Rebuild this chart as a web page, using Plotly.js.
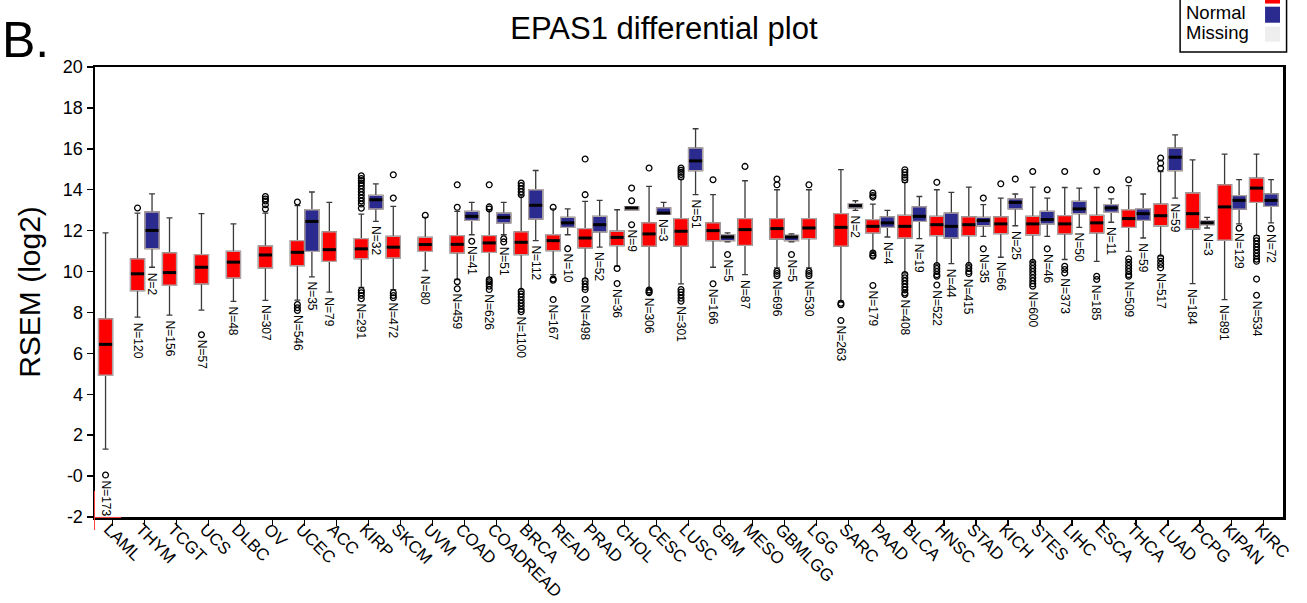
<!DOCTYPE html>
<html>
<head>
<meta charset="utf-8">
<script src="https://cdn.plot.ly/plotly-3.0.1.min.js"></script>
<style>
html,body{margin:0;padding:0;background:#ffffff;}
#chart{width:1307px;height:603px;}
</style>
</head>
<body>
<div id="chart"></div>
<script>
// ---------------- DATA ----------------
const categories = ["LAML","THYM","TCGT","UCS","DLBC","OV","UCEC","ACC","KIRP","SKCM","UVM","COAD","COADREAD","BRCA","READ","PRAD","CHOL","CESC","LUSC","GBM","MESO","GBMLGG","LGG","SARC","PAAD","BLCA","HNSC","STAD","KICH","STES","LIHC","ESCA","THCA","LUAD","PCPG","KIPAN","KIRC"];

// Tumor (red) box statistics
const tumorLow  = [1.32,7.77,7.87,8.11,8.54,8.59,8.60,8.99,9.23,9.12,10.05,9.61,9.69,9.12,9.85,9.64,10.26,9.15,9.40,10.21,9.85,10.18,10.18,8.55,10.99,9.93,10.34,10.34,10.70,10.50,10.59,10.50,10.99,10.75,9.41,8.63,11.76];
const tumorQ1   = [4.93,9.07,9.33,9.40,9.69,10.18,10.29,10.50,10.63,10.67,10.99,10.91,10.94,10.83,11.02,11.16,11.27,11.24,11.24,11.51,11.28,11.59,11.61,11.24,11.89,11.64,11.76,11.76,11.85,11.80,11.84,11.89,12.16,12.24,12.08,11.53,13.38];
const tumorMed  = [6.44,9.89,9.95,10.21,10.46,10.81,10.94,11.07,11.11,11.19,11.32,11.33,11.40,11.43,11.51,11.64,11.67,11.84,11.97,12.00,12.05,12.10,12.13,12.16,12.21,12.21,12.29,12.29,12.33,12.33,12.33,12.38,12.59,12.73,12.83,13.16,14.08];
const tumorQ3   = [7.69,10.62,10.91,10.83,10.99,11.24,11.51,11.94,11.61,11.72,11.67,11.76,11.76,11.94,11.80,12.10,11.97,12.38,12.59,12.38,12.59,12.59,12.59,12.83,12.54,12.75,12.70,12.67,12.67,12.70,12.73,12.75,13.02,13.30,13.84,14.24,14.57];
const tumorHigh = [11.89,12.86,12.62,12.83,12.33,12.86,13.22,13.38,12.81,13.19,12.65,12.94,13.02,13.71,13.06,13.43,13.02,14.16,14.52,13.76,14.44,14.00,14.00,14.98,13.30,14.36,14.00,14.13,13.59,14.13,14.11,14.11,14.20,14.89,15.46,15.74,15.74];
const tumorN    = [173,120,156,57,48,307,546,79,291,472,80,459,626,1100,167,498,36,306,301,166,87,696,530,263,179,408,522,415,66,600,373,185,509,517,184,891,534];
const tumorOutliers = [
  [0.05],
  [13.11],
  [],
  [6.91],
  [],
  [13.67,13.55,13.45,13.27,13.06],
  [13.40,8.39,8.23,8.10],
  [],
  [14.68,14.55,14.45,14.33,14.20,14.05,13.90,13.75,13.60,13.45,13.30,13.10,9.07,8.96,8.83,8.67],
  [14.73,13.59,8.96,8.83,8.72],
  [12.75],
  [14.24,13.14,9.50,9.16],
  [14.24,13.16,13.06,9.60,9.50,9.40,9.28,9.12],
  [14.33,14.20,14.05,13.90,13.76,9.04,8.90,8.75,8.60,8.45,8.30,8.15,8.04],
  [13.14,9.64,9.58,8.63],
  [15.50,13.76,9.55,9.40,9.25,9.12,8.63],
  [10.15,9.41],
  [15.06,9.10,9.02,8.96],
  [15.06,14.95,14.85,14.75,14.62,9.12,9.00,8.85,8.70,8.55],
  [14.49,9.40],
  [15.14],
  [14.52,14.24,10.01,9.90,9.80],
  [14.24,10.01,9.90,9.80],
  [8.45,8.38,7.61],
  [13.84,13.72,13.64,10.91,10.80,10.75,9.32],
  [14.98,14.85,14.72,14.60,14.48,9.85,9.70,9.55,9.40,9.25,9.10,8.95,8.88],
  [14.36,10.29,10.15,10.00,9.85,9.77,9.34],
  [10.30,10.15,10.00,9.90],
  [14.29],
  [14.89,10.45,10.30,10.15,10.00,9.85,9.70,9.55,9.40,9.28],
  [14.89,10.26,10.10,9.93],
  [14.89,9.77,9.61],
  [14.49,10.62,10.45,10.30,10.15,10.00,9.85,9.77],
  [15.55,15.30,15.05,10.67,10.50,10.35,10.18],
  [],
  [],
  [11.64,11.50,11.35,11.20,11.05,10.90,10.75,10.60,10.50,9.63,8.84]
];

// Normal (blue) box statistics
const normalCats = ["THYM","UCEC","KIRP","COAD","COADREAD","BRCA","READ","PRAD","CHOL","CESC","LUSC","GBM","GBMLGG","SARC","PAAD","BLCA","HNSC","STAD","KICH","STES","LIHC","ESCA","THCA","LUAD","PCPG","KIPAN","KIRC"];
const normalLow  = [10.21,9.74,12.45,11.80,11.80,11.51,11.80,11.19,13.02,12.81,13.76,11.45,11.45,12.99,11.69,11.61,10.39,11.72,12.24,11.72,12.16,12.41,11.64,13.59,12.13,12.33,12.38];
const normalQ1   = [11.12,10.99,13.06,12.50,12.38,12.57,12.16,11.94,13.02,12.81,14.93,11.51,11.51,13.11,12.16,12.45,11.64,12.24,13.06,12.33,12.83,12.90,12.50,14.93,12.29,13.05,13.19];
const normalMed  = [12.01,12.45,13.51,12.70,12.65,13.24,12.38,12.29,13.11,12.86,15.41,11.69,11.69,13.22,12.38,12.70,12.21,12.49,13.38,12.54,13.06,13.11,12.83,15.59,12.38,13.48,13.48];
const normalQ3   = [12.91,13.02,13.72,12.94,12.86,14.00,12.65,12.70,13.16,13.11,16.03,11.80,11.77,13.32,12.67,13.16,12.86,12.65,13.55,12.94,13.43,13.27,13.07,16.03,12.49,13.71,13.80];
const normalHigh = [13.80,13.89,14.29,13.38,13.38,14.94,13.06,13.48,13.16,13.38,16.98,11.89,11.84,13.46,12.99,13.67,13.87,13.27,13.79,13.59,14.08,13.55,13.79,16.68,12.65,14.49,14.49];
const normalN    = [2,35,32,41,51,112,10,52,9,3,51,5,5,2,4,19,44,35,25,46,50,11,59,59,3,129,72];
const normalOutliers = [
  [],[],[],[11.48],[11.60,11.45],[],[11.12],[],[14.08,13.46,12.29],[],[],[10.83],[10.83],[],[],[],[],
  [13.59,11.11],[14.52],[14.00,11.11],[],[14.00],[],[],[],[12.12],[12.10]
];

const yTickVals = [-2,0,2,4,6,8,10,12,14,16,18,20];
const yTickText = ["-2","-0","2","4","6","8","10","12","14","16","18","20"];

const legendItems = ["Normal", "Missing"];

// ---------------- STYLE ----------------
const FONT = "Liberation Sans, Arial, Helvetica, sans-serif";
const RED = "#ff0000", BLUE = "#2b2b8f", MISSING = "#eeeeee";
const OFF = 0.227;   // half-group offset (category units)
const BW = 0.438;    // box width (category units)

const catIndex = c => categories.indexOf(c);
const tX = categories.map((c, i) => i - OFF);
const nX = normalCats.map(c => catIndex(c) + OFF);

function boxPair(x, low, q1, med, q3, high, fill) {
  const common = {type: "box", x: x, q1: q1, median: med, q3: q3, width: BW,
    boxpoints: false, fillcolor: fill, hoverinfo: "skip", showlegend: false};
  const whisk = Object.assign({}, common, {lowerfence: low, upperfence: high,
    whiskerwidth: 0.42, line: {color: "#3a3a3a", width: 1.3}});
  const body = Object.assign({}, common, {lowerfence: q1, upperfence: q3,
    whiskerwidth: 0, line: {color: "#b0a4a4", width: 1.3}});
  return [whisk, body];
}

const traces = [];
traces.push(...boxPair(tX, tumorLow, tumorQ1, tumorMed, tumorQ3, tumorHigh, RED));
traces.push(...boxPair(nX, normalLow, normalQ1, normalMed, normalQ3, normalHigh, BLUE));

// median bars
traces.push({type: "scatter", mode: "markers", x: tX.concat(nX), y: tumorMed.concat(normalMed),
  marker: {symbol: "line-ew", size: 9.4, color: "#000", line: {color: "#000", width: 3}},
  hoverinfo: "skip", showlegend: false});

// outliers
const oX = [], oY = [];
tumorOutliers.forEach((arr, i) => arr.forEach(v => { oX.push(tX[i]); oY.push(v); }));
normalOutliers.forEach((arr, i) => arr.forEach(v => { oX.push(nX[i]); oY.push(v); }));
traces.push({type: "scatter", mode: "markers", x: oX, y: oY,
  marker: {symbol: "circle-open", size: 5.8, color: "#000", line: {color: "#000", width: 1.3}},
  hoverinfo: "skip", showlegend: false});

// N= labels below the lowest point of each box
const annotations = [];
function addLabels(xs, lows, meds, outs, ns) {
  xs.forEach((x, i) => {
    const below = outs[i].filter(v => v < meds[i]);
    const lowest = Math.min(lows[i], ...below);
    annotations.push({x: x, y: lowest, xref: "x", yref: "y", text: "N=" + ns[i],
      showarrow: false, textangle: 90, xanchor: "center", yanchor: "top", yshift: -3,
      font: {family: FONT, size: 12, color: "#000"}});
  });
}
addLabels(tX, tumorLow, tumorMed, tumorOutliers, tumorN);
addLabels(nX, normalLow, normalMed, normalOutliers, normalN);

// panel letter
annotations.push({xref: "paper", yref: "paper", x: -0.080, y: 1.060, xanchor: "left", yanchor: "middle",
  text: "B.", showarrow: false, font: {family: FONT, size: 50, color: "#000"}});

// legend (top part clipped by the image edge, as in the reference)
const legendY = [1.1215, 1.0775];
legendItems.forEach((t, k) => annotations.push({xref: "paper", yref: "paper", x: 0.9176, y: legendY[k],
  xanchor: "left", yanchor: "middle", text: t, showarrow: false, borderpad: 0,
  font: {family: FONT, size: 18.5, color: "#000"}}));

const shapes = [
  {type: "rect", xref: "paper", yref: "paper", x0: 0.9134, x1: 1.0030, y0: 1.0333, y1: 1.25,
    line: {color: "#000", width: 1.5}, fillcolor: "rgba(0,0,0,0)"},
  {type: "rect", xref: "paper", yref: "paper", x0: 0.9849, x1: 0.9975, y0: 1.141, y1: 1.20,
    line: {width: 0}, fillcolor: RED},
  {type: "rect", xref: "paper", yref: "paper", x0: 0.9849, x1: 0.9975, y0: 1.0984, y1: 1.134,
    line: {width: 0}, fillcolor: BLUE},
  {type: "rect", xref: "paper", yref: "paper", x0: 0.9849, x1: 0.9975, y0: 1.0562, y1: 1.0896,
    line: {width: 0}, fillcolor: MISSING},
  // small red marks at the lower-left corner
  {type: "line", xref: "paper", yref: "paper", x0: -0.0004, x1: -0.0004, y0: 0.058, y1: -0.029,
    line: {color: "#ff4040", width: 1}},
  {type: "line", xref: "paper", yref: "paper", x0: 0, x1: 0.022, y0: -0.001, y1: -0.001,
    line: {color: "#ff4040", width: 1}}
];

const layout = {
  width: 1307, height: 603,
  margin: {l: 95, r: 24, t: 67, b: 86},
  paper_bgcolor: "#ffffff", plot_bgcolor: "#ffffff",
  font: {family: FONT, color: "#000"},
  showlegend: false,
  title: {text: "EPAS1 differential plot", x: 0.508, xanchor: "center", y: 0.953, yanchor: "middle",
    yref: "container", font: {family: FONT, size: 31, color: "#000"}},
  xaxis: {range: [-0.557, 36.60], tickmode: "array", tickvals: categories.map((c, i) => i), ticktext: categories,
    tickangle: 45, ticks: "outside", ticklen: 6, tickwidth: 1.3, tickcolor: "#000",
    ticklabelstandoff: -13, ticklabelshift: -4,
    showline: true, linecolor: "#000", linewidth: 2.5, mirror: true, showgrid: false, zeroline: false,
    tickfont: {family: FONT, size: 17, color: "#000"}},
  yaxis: {range: [-2, 20], tickmode: "array", tickvals: yTickVals, ticktext: yTickText,
    ticks: "outside", ticklen: 6, tickwidth: 1.5, tickcolor: "#000",
    showline: true, linecolor: "#000", linewidth: 2.5, mirror: true, showgrid: false, zeroline: false,
    tickfont: {family: FONT, size: 18, color: "#000"},
    title: {text: "RSEM (log2)", font: {family: FONT, size: 30, color: "#000"}, standoff: 14}},
  annotations: annotations,
  shapes: shapes
};

Plotly.newPlot("chart", traces, layout, {staticPlot: true, displayModeBar: false});
</script>
</body>
</html>
